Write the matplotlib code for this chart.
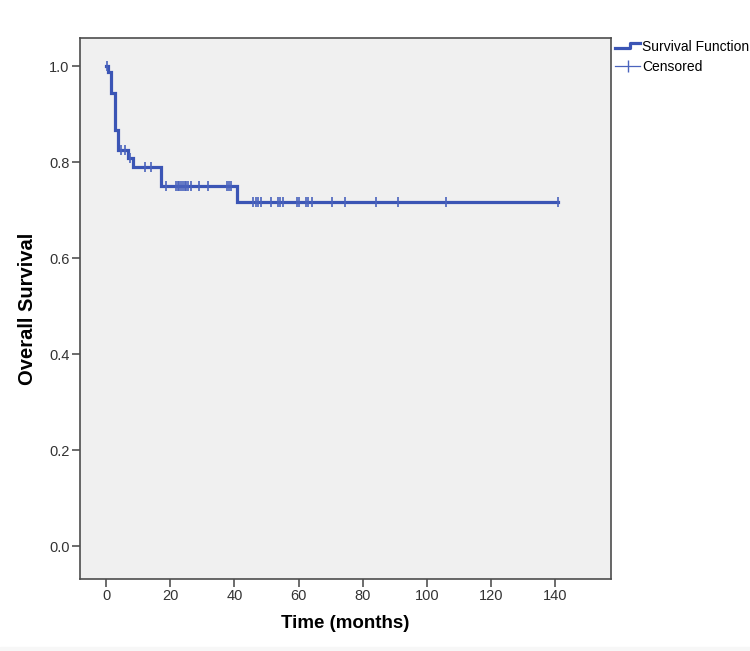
import matplotlib
matplotlib.use("Agg")
import matplotlib.pyplot as plt
from matplotlib.legend_handler import HandlerBase
from matplotlib.lines import Line2D

# Kaplan-Meier step values
step_times = [0, 0.6, 1.7, 2.7, 3.7, 6.7, 8.4, 17.0, 40.7, 140.9]
step_surv = [1.0, 0.987, 0.943, 0.867, 0.825, 0.808, 0.789, 0.750, 0.717, 0.717]

# censored cases (time, survival level)
cens_times = [0.4, 4.8, 5.8, 7.5, 12.0, 13.9,
              18.8, 21.9, 22.4, 22.9, 23.5, 24.0, 24.5, 25.0, 25.5, 26.6,
              28.9, 31.7, 37.6, 38.3, 38.8,
              45.7, 46.6, 47.4, 48.3, 51.4, 53.5, 54.3, 55.2, 59.5, 60.2,
              62.3, 63.1, 64.2, 70.4, 74.5, 84.3, 91.1, 106.1, 140.9]
cens_surv = [1.0, 0.825, 0.825, 0.808, 0.789, 0.789,
             0.750, 0.750, 0.750, 0.750, 0.750, 0.750, 0.750, 0.750, 0.750, 0.750,
             0.750, 0.750, 0.750, 0.750, 0.750,
             0.717, 0.717, 0.717, 0.717, 0.717, 0.717, 0.717, 0.717, 0.717, 0.717,
             0.717, 0.717, 0.717, 0.717, 0.717, 0.717, 0.717, 0.717, 0.717]

x_ticks = [0, 20, 40, 60, 80, 100, 120, 140]
y_ticks = [0.0, 0.2, 0.4, 0.6, 0.8, 1.0]

blue = "#3b55b5"
plt.rcParams["font.family"] = ["Liberation Sans", "DejaVu Sans"]

fig = plt.figure(figsize=(7.5, 6.51), dpi=100)
ax = fig.add_axes([0.1067, 0.1106, 0.708, 0.8306])
ax.set_facecolor("#f0f0f0")

ax.plot(step_times, step_surv, drawstyle="steps-post", color=blue, lw=2.3,
        solid_joinstyle="miter")
ax.plot(cens_times, cens_surv, ls="none", marker="|", ms=7, mew=1.2,
        color="#4a63bd")

ax.set_xlim(-8.1, 157.4)
ax.set_ylim(-0.0685, 1.058)
ax.set_xticks(x_ticks)
ax.set_xticklabels([str(v) for v in x_ticks])
ax.set_yticks(y_ticks)
ax.set_yticklabels(["%.1f" % v for v in y_ticks])
ax.tick_params(length=5.5, width=1.1, color="#444444", labelsize=10.5,
               labelcolor="#333333", pad=2)
for s in ax.spines.values():
    s.set_color("#4d4d4d")
    s.set_linewidth(1.2)

ax.set_xlabel("Time (months)", fontsize=13.5, fontweight="bold", va="center")
ax.set_ylabel("Overall Survival", fontsize=14.5, fontweight="bold", va="center")
ax.xaxis.set_label_coords(0.5, -0.0825)
ax.yaxis.set_label_coords(-0.0998, 0.5)


class StepHandler(HandlerBase):
    def create_artists(self, legend, orig_handle, xdescent, ydescent,
                       width, height, fontsize, trans):
        x0 = -xdescent
        yl = -ydescent + height * 0.3
        yh = -ydescent + height * 0.85
        xs = [x0, x0 + width * 0.6, x0 + width * 0.6, x0 + width]
        ys = [yl, yl, yh, yh]
        ln = Line2D(xs, ys, color=blue, lw=2.3, transform=trans)
        return [ln]


h_surv = Line2D([], [], color=blue, lw=2.3)
h_cens = Line2D([], [], color="#4a63bd", lw=0.9, marker="|", ms=9, mew=1.0,
                markevery=[1])
h_cens.set_data([0, 1], [0, 0])
fig.legend([h_surv, h_cens], ["Survival Function", "Censored"],
           loc="upper left", bbox_to_anchor=(615 / 750, 1 - 40 / 651),
           frameon=False, fontsize=10, handlelength=1.8, handletextpad=0.15,
           borderpad=0, borderaxespad=0, labelspacing=0.45,
           handler_map={h_surv: StepHandler()})

fig.patches.append(plt.Rectangle((0, 0), 1, 4 / 651, transform=fig.transFigure,
                                 color="#f7f7f7", zorder=-1))

fig.savefig("out.png", dpi=100)
